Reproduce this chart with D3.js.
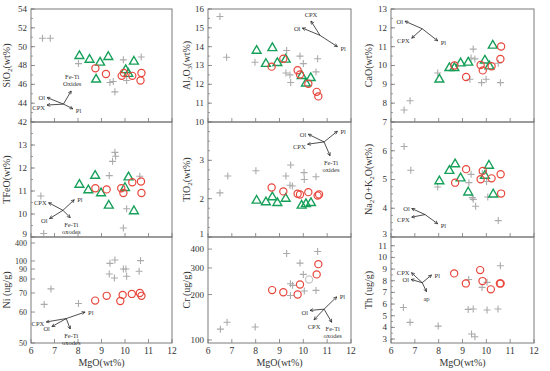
<!DOCTYPE html>
<html lang="en">
<head>
<meta charset="UTF-8">
<title>MgO variation diagrams</title>
<script src="https://d3js.org/d3.v7.min.js"></script>
<style>
  body { margin: 0; background: #fff; }
  text { font-family: "Liberation Serif", "DejaVu Serif", serif; fill: #333; }
</style>
</head>
<body>
<div id="chart"></div>
<script>
// ---- data: [MgO, value] ----
const sio2Plus = [[6.49,50.9],[6.82,50.9],[8.02,48.2],[9.93,48.6],[10.69,48.9],[9.36,46.2],[9.5,46.3],[9.57,45.2],[10.07,46.4]];
const sio2Tri = [[8.06,49.1],[8.49,48.7],[8.94,48.4],[9.29,49.0],[8.77,46.6],[10.03,47.6],[10.14,47.2],[10.38,48.5]];
const sio2Circ = [[8.74,47.7],[9.19,47.1],[9.86,46.9],[9.95,47.2],[10.31,46.9],[10.7,47.2],[10.66,46.4]];

const al2o3Plus = [[6.5,15.6],[6.78,13.44],[7.97,13.17],[9.3,13.8],[9.27,12.6],[9.44,12.5],[9.47,12.1],[9.86,13.5],[10.0,13.1],[10.53,12.66],[10.6,13.36]];
const al2o3Tri = [[8.04,13.83],[8.7,13.97],[8.43,13.13],[8.91,13.18],[9.26,13.36],[9.93,12.49],[10.11,12.09],[10.31,12.38]];
const al2o3Circ = [[8.67,12.94],[9.16,13.36],[9.76,12.75],[9.86,12.52],[10.21,12.03],[10.56,11.6],[10.63,11.36]];

const caoPlus = [[6.55,7.64],[6.8,8.13],[7.96,9.6],[9.31,9.27],[9.45,10.87],[9.36,10.4],[9.52,10.35],[9.8,9.09],[9.99,9.27],[10.5,10.12],[10.59,9.09]];
const caoTri = [[8.03,9.3],[8.45,9.91],[8.66,9.91],[8.92,10.16],[9.24,10.2],[9.94,10.31],[10.13,10.0],[10.27,11.1]];
const caoCirc = [[8.66,10.0],[9.15,9.39],[9.76,10.03],[9.85,9.74],[10.22,9.96],[10.62,11.01],[10.59,10.35]];

const tfeoPlus = [[6.42,10.78],[6.54,9.15],[9.57,12.68],[9.6,12.51],[9.47,12.29],[9.33,11.67],[9.93,9.39],[10.07,10.23],[10.63,11.64]];
const tfeoTri = [[8.06,11.31],[8.44,11.07],[8.73,11.7],[8.98,10.94],[9.31,10.4],[10.0,11.17],[10.15,11.63],[10.38,10.16]];
const tfeoCirc = [[8.74,11.12],[9.22,11.07],[9.84,11.12],[9.93,10.91],[10.31,11.38],[10.68,11.41],[10.7,10.91]];

const tio2Plus = [[6.5,2.15],[6.83,2.59],[8.01,2.73],[9.27,2.59],[9.47,2.88],[9.44,2.35],[9.54,2.33],[10.03,2.68],[10.04,2.5],[10.53,2.57]];
const tio2Tri = [[8.04,1.97],[8.43,1.93],[8.7,2.06],[8.91,1.91],[9.26,2.02],[9.93,1.84],[10.11,1.88],[10.32,1.91]];
const tio2Circ = [[8.67,2.29],[9.16,2.19],[9.76,2.13],[9.86,2.11],[10.21,2.17],[10.6,2.08],[10.66,2.11]];

const alkPlus = [[6.55,6.15],[6.83,5.32],[7.96,4.74],[9.27,4.89],[9.36,5.18],[9.41,4.37],[9.45,4.31],[9.55,4.07],[9.83,5.21],[10.01,4.93],[10.06,4.39],[10.5,3.57]];
const alkTri = [[8.03,4.97],[8.45,5.33],[8.69,5.56],[8.92,5.07],[9.24,4.58],[9.94,5.16],[10.11,5.51],[10.29,4.51]];
const alkCirc = [[8.69,4.89],[9.15,5.36],[9.76,5.01],[9.85,5.3],[10.22,5.04],[10.6,5.18],[10.62,4.51]];

const niPlus = [[6.56,64],[6.85,72.9],[8.02,64.5],[9.36,97],[9.57,117],[9.33,85],[9.55,81],[9.93,90],[10.04,90],[10.07,82.7],[10.6,87.7],[10.66,106]];
const niCirc = [[8.73,66],[9.22,68.5],[9.8,65.8],[9.9,69],[10.29,69.5],[10.63,70],[10.7,68.5]];

const crPlus = [[6.52,118],[6.8,131],[7.98,122],[9.3,374],[9.86,323],[9.46,236],[9.55,230],[9.46,197],[10.0,272],[10.04,211],[10.53,213],[10.6,386]];
const crCirc = [[8.69,214],[9.16,207],[9.76,200],[9.86,233],[10.63,318],[10.56,272]];
const crGreyCirc = [[10.24,252]];

const thPlus = [[6.52,5.71],[6.8,4.43],[7.98,4.11],[9.26,8.11],[9.24,5.54],[9.45,5.57],[9.38,3.43],[9.52,3.2],[9.82,7.43],[10.03,7.86],[10.03,5.49],[10.49,5.57],[10.59,9.29]];
const thCirc = [[8.65,8.63],[9.14,7.77],[9.74,8.91],[9.84,7.97],[10.19,7.26],[10.57,7.77],[10.6,7.77]];

// tick labels
const mgoTicks = [6,7,8,9,10,11,12];
const sio2Ticks = [42,44,46,48,50,52,54];
const al2o3Ticks = [10,11,12,13,14,15,16];
const caoTicks = [7,8,9,10,11,12,13];
const tfeoTicks = [9,10,11,12,13];
const tio2Ticks = [1,2,3];
const alkTicks = [3,4,5,6];
const niTicks = [50,60,70,80,90,100,400];
const crTicks = [100,200,300,400];
const thTicks = [3,4,5,6,7,8,9,10,11];

// vector diagrams: origin [MgO, value], then ends with label(s)
const sio2Vec = { o: [7.38,43.9], v: [["Ol",6.68,44.6],["CPX",6.68,43.8],["Pl",7.78,43.4],["Fe-Ti|Oxides",7.71,45.3]] };
const al2o3Vec = { o: [10.7,14.6], v: [["CPX",10.32,15.36],["Ol",9.96,14.99],["Pl",11.43,14.0]] };
const caoVec = { o: [7.31,11.95], v: [["Ol",6.59,12.35],["CPX",6.87,11.45],["Pl",7.96,11.31]] };
const tfeoVec = { o: [7.36,10.16], v: [["CPX",6.75,10.49],["Ol",6.79,9.8],["Pl",7.84,10.62],["Fe-Ti|oxodes",7.67,9.84]] };
const tio2Vec = { o: [10.87,3.48], v: [["Ol",10.21,3.68],["Pl",11.43,3.76],["CPX",10.18,3.42],["Fe-Ti|oxides",11.12,3.12]] };
const alkVec = { o: [7.43,3.78], v: [["Ol",6.87,3.99],["CPX",6.87,3.69],["Pl",7.96,3.46]] };
const niVec = { o: [7.5,57.9], v: [["CPX",6.65,56.8],["Ol",6.89,55.3],["Pl",8.3,60],["Fe-Ti|oxodes",7.67,54.5]] };
const crVec = { o: [10.87,160], v: [["Pl",11.4,193],["Ol",10.28,157],["CPX",10.45,136],["Fe-Ti|oxodes",11.19,131]] };
const thVec = { o: [7.31,7.83], v: [["CPX",6.86,8.69],["Ol",6.84,8.11],["Pl",7.7,8.49],["ap",7.49,7.06]] };

// ---- layout ----
const W = 550, H = 371;
const colX = [[31,172],[208,351],[391,534]];
const rowY = [[9,122],[122,237],[237,343]];
const titleX = [10,190,372];

const GREY = "#ababab", GREEN = "#17a05a", RED = "#e8463c", FRAME = "#7a7a7a";

function niScale(r) {
  // the original Ni axis is irregular; follow its tick spacing
  const f = [0,0.292,0.472,0.604,0.698,0.774,0.943,1];
  return d3.scaleLinear().domain([50,60,70,80,90,100,400,500])
    .range(f.map(t => r[1] - t*(r[1]-r[0])));
}

const panels = [
  { col:0,row:0, title:["SiO","2","(wt%)"], y: r => d3.scaleLinear().domain([42,54]).range([r[1],r[0]]), ticks:sio2Ticks, minor:d3.range(42,54.01,1), plus:sio2Plus, tri:sio2Tri, circ:sio2Circ, vec:sio2Vec },
  { col:1,row:0, title:["Al","2","O","3","(wt%)"], y: r => d3.scaleLinear().domain([10,16]).range([r[1],r[0]]), ticks:al2o3Ticks, minor:d3.range(10,16.01,0.5), plus:al2o3Plus, tri:al2o3Tri, circ:al2o3Circ, vec:al2o3Vec },
  { col:2,row:0, title:["CaO(wt%)"], y: r => d3.scaleLinear().domain([7,13]).range([r[1],r[0]]), ticks:caoTicks, minor:d3.range(7,13.01,0.5), plus:caoPlus, tri:caoTri, circ:caoCirc, vec:caoVec },
  { col:0,row:1, title:["TFeO(wt%)"], y: r => d3.scaleLinear().domain([9,14]).range([r[1],r[0]]), ticks:tfeoTicks, minor:d3.range(9,14.01,0.5), plus:tfeoPlus, tri:tfeoTri, circ:tfeoCirc, vec:tfeoVec },
  { col:1,row:1, title:["TiO","2","(wt%)"], y: r => d3.scaleLinear().domain([1,4]).range([r[1],r[0]]), ticks:tio2Ticks, minor:d3.range(1,4.01,0.25), plus:tio2Plus, tri:tio2Tri, circ:tio2Circ, vec:tio2Vec },
  { col:2,row:1, title:["Na","2","O+K","2","O(wt%)"], y: r => d3.scaleLinear().domain([3,7]).range([r[1],r[0]]), ticks:alkTicks, minor:d3.range(3,7.01,0.25), plus:alkPlus, tri:alkTri, circ:alkCirc, vec:alkVec },
  { col:0,row:2, title:["Ni (ug/g)"], y: niScale, ticks:niTicks, minor:[], plus:niPlus, tri:[], circ:niCirc, vec:niVec },
  { col:1,row:2, title:["Cr (ug/g)"], y: r => d3.scaleLog().domain([95.5,481]).range([r[1],r[0]]), ticks:crTicks, minor:[], plus:crPlus, tri:[], circ:crCirc, grey:crGreyCirc, vec:crVec },
  { col:2,row:2, title:["Th (ug/g)"], y: r => d3.scaleLinear().domain([2.66,11.75]).range([r[1],r[0]]), ticks:thTicks, minor:d3.range(3,11.01,0.5), plus:thPlus, tri:[], circ:thCirc, vec:thVec }
];

const svg = d3.select("#chart").append("svg")
  .attr("width", W).attr("height", H);

svg.append("defs").append("marker")
  .attr("id","arr").attr("viewBox","0 0 10 10")
  .attr("refX",9).attr("refY",5)
  .attr("markerWidth",5).attr("markerHeight",5)
  .attr("orient","auto")
  .append("path").attr("d","M1,1L9,5L1,9")
  .attr("fill","none").attr("stroke","#222").attr("stroke-width",1.6);

const plusPath = "M-3.5,0H3.5M0,-3.5V3.5";
const triPath = d3.symbol(d3.symbolTriangle).size(34)();

panels.forEach(p => {
  const xr = colX[p.col], yr = rowY[p.row];
  const x = d3.scaleLinear().domain([6,12]).range(xr);
  const y = p.y(yr);
  const g = svg.append("g");

  // frame
  g.append("rect").attr("x",xr[0]).attr("y",yr[0])
    .attr("width",xr[1]-xr[0]).attr("height",yr[1]-yr[0])
    .attr("fill","none").attr("stroke",FRAME).attr("stroke-width",1);

  // y ticks (inward)
  g.selectAll(".ymin").data(p.minor).join("line")
    .attr("x1",xr[0]).attr("x2",xr[0]+2)
    .attr("y1",d=>y(d)).attr("y2",d=>y(d))
    .attr("stroke",FRAME).attr("stroke-width",0.7);
  g.selectAll(".ymaj").data(p.ticks).join("line")
    .attr("x1",xr[0]).attr("x2",xr[0]+4)
    .attr("y1",d=>y(d)).attr("y2",d=>y(d))
    .attr("stroke",FRAME).attr("stroke-width",0.8);
  // the Ni ticks sit very close together near the top, so use a smaller size there
  const tickFont = p.row === 2 && p.col === 0 ? 8 : 9;
  const lowest = d3.min(p.ticks);
  g.selectAll(".ylab").data(p.ticks).join("text")
    .attr("x",xr[0]-4)
    .attr("y",d => y(d) - (p.row === 1 && d === lowest ? 2.5 : 0))
    .attr("dy","0.33em")
    .attr("text-anchor","end").attr("font-size",tickFont).text(d=>d);

  // x ticks (inward)
  g.selectAll(".xmaj").data(mgoTicks).join("line")
    .attr("x1",d=>x(d)).attr("x2",d=>x(d))
    .attr("y1",yr[1]).attr("y2",yr[1]-4)
    .attr("stroke",FRAME).attr("stroke-width",0.8);
  if (p.row === 2) {
    g.selectAll(".xlab").data(mgoTicks).join("text")
      .attr("x",d=>x(d)).attr("y",yr[1]+11)
      .attr("text-anchor","middle").attr("font-size",9.5).text(d=>d);
    g.append("text").attr("x",(xr[0]+xr[1])/2).attr("y",yr[1]+23)
      .attr("text-anchor","middle").attr("font-size",10).text("MgO(wt%)");
  }

  // y title with subscripts
  const cy = (yr[0]+yr[1])/2;
  const t = g.append("text")
    .attr("transform",`translate(${titleX[p.col]},${cy}) rotate(-90)`)
    .attr("text-anchor","middle").attr("font-size",10);
  p.title.forEach((s,i) => {
    const sub = p.title.length > 1 && i % 2 === 1;
    t.append("tspan").text(s)
      .attr("font-size", sub ? 7 : 10)
      .attr("dy", sub ? 2 : (i > 0 ? -2 : 0));
  });

  // markers
  g.selectAll(".plus").data(p.plus).join("path")
    .attr("d",plusPath).attr("transform",d=>`translate(${x(d[0])},${y(d[1])})`)
    .attr("stroke",GREY).attr("stroke-width",1.1).attr("fill","none");
  g.selectAll(".tri").data(p.tri).join("path")
    .attr("d",triPath).attr("transform",d=>`translate(${x(d[0])},${y(d[1])+0.8})`)
    .attr("stroke",GREEN).attr("stroke-width",1.4).attr("fill","none");
  g.selectAll(".grey").data(p.grey || []).join("circle")
    .attr("cx",d=>x(d[0])).attr("cy",d=>y(d[1])).attr("r",3.6)
    .attr("stroke","#c8c8c8").attr("stroke-width",1.3).attr("fill","none");
  g.selectAll(".circ").data(p.circ).join("circle")
    .attr("cx",d=>x(d[0])).attr("cy",d=>y(d[1])).attr("r",3.6)
    .attr("stroke",RED).attr("stroke-width",1.2).attr("fill","none");

  // vector diagram
  const ox = x(p.vec.o[0]), oy = y(p.vec.o[1]);
  p.vec.v.forEach(([lab, vx, vy]) => {
    const ex = x(vx), ey = y(vy);
    g.append("line").attr("x1",ox).attr("y1",oy).attr("x2",ex).attr("y2",ey)
      .attr("stroke","#222").attr("stroke-width",0.8).attr("marker-end","url(#arr)");
    const dx = ex - ox, dy = ey - oy;
    const lines = lab.split("|");
    let tx, ty, anchor;
    if (Math.abs(dx) >= Math.abs(dy)) {
      anchor = dx < 0 ? "end" : "start";
      tx = ex + (dx < 0 ? -2 : 3); ty = ey + 2.5 + (dy > 0 ? 2 : 0);
    } else {
      anchor = "middle";
      tx = ex; ty = dy > 0 ? ey + 9 : ey - 4;
    }
    if (lines.length > 1) { anchor = "middle"; tx = ex + 1; ty = dy > 0 ? ey + 9 : ey - 12; }
    lines.forEach((s,i) => {
      g.append("text").attr("x",tx).attr("y",ty + i*7)
        .attr("text-anchor",anchor).attr("font-size",6.5).attr("fill","#333").text(s);
    });
  });
});
</script>
</body>
</html>
